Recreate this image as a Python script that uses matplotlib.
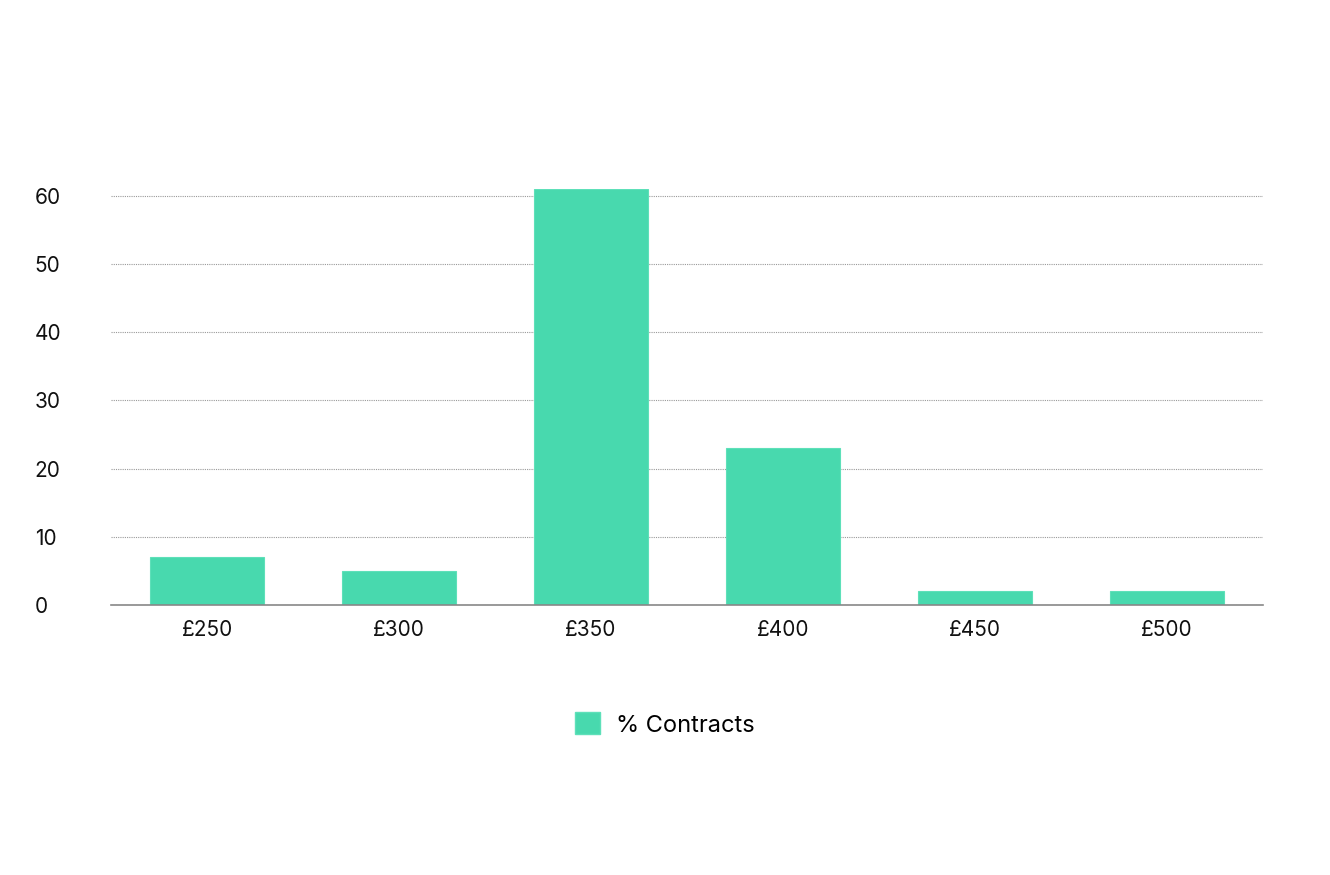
import matplotlib
matplotlib.use("Agg")
import matplotlib.pyplot as plt
from matplotlib.patches import Patch

categories = ["£250", "£300", "£350", "£400", "£450", "£500"]
contracts = [7, 5, 61, 23, 2, 2]
y_ticks = [0, 10, 20, 30, 40, 50, 60]

GREEN = "#48d9ae"

plt.rcParams["font.family"] = ["Inter", "DejaVu Sans"]

fig = plt.figure(figsize=(13.3, 8.75), dpi=100)
ax = fig.add_axes([0.0835, 0.3086, 0.8661, 0.4754])

x = range(len(categories))
ax.bar(x, contracts, width=0.59, color=GREEN, edgecolor="#5ee0b9", linewidth=0.8, zorder=3)

ax.set_xlim(-0.5, len(categories) - 0.5)
ax.set_ylim(0, 61)
ax.set_yticks(y_ticks)
ax.set_xticks(list(x))
ax.set_xticklabels(categories)
ax.yaxis.grid(True, color="#999999", linestyle=(0, (1, 1)), linewidth=0.8, zorder=0)

for side in ["top", "right", "left"]:
    ax.spines[side].set_visible(False)
ax.spines["bottom"].set_color("#888888")
ax.spines["bottom"].set_linewidth(1.2)
ax.spines["bottom"].set_zorder(4)
ax.tick_params(axis="both", length=0, labelsize=15, colors="#111111")
ax.tick_params(axis="x", pad=11)
ax.tick_params(axis="y", pad=55)
for lbl in ax.get_yticklabels():
    lbl.set_horizontalalignment("left")

handles = [Patch(facecolor=GREEN, edgecolor="#5ee0b9", label="% Contracts")]
fig.legend(handles=handles, loc="center", bbox_to_anchor=(0.5, 0.172), frameon=False,
           fontsize=17, handlelength=1.05, handleheight=1.05, handletextpad=0.7)

fig.savefig("out.png", dpi=100, facecolor="white")
